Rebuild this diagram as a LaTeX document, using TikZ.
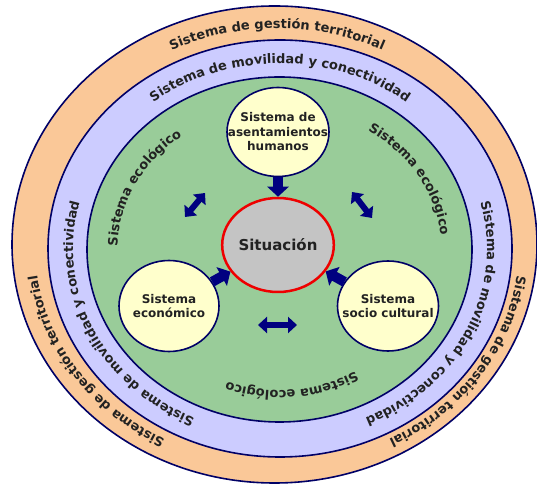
\documentclass[tikz,border=0pt]{standalone}
\usepackage{fontspec}
\setmainfont{DejaVu Sans}
\usetikzlibrary{shapes.geometric,arrows.meta,decorations.text}

\definecolor{ringorange}{HTML}{FAC898}
\definecolor{ringblue}{HTML}{CCCCFF}
\definecolor{ringgreen}{HTML}{99CC99}
\definecolor{sysyellow}{HTML}{FFFFCC}
\definecolor{sitgrey}{HTML}{C4C4C4}
\definecolor{navyline}{HTML}{000066}
\definecolor{arrowblue}{HTML}{000080}
\definecolor{sitred}{HTML}{EE0000}
\definecolor{txt}{HTML}{222222}

\newcommand{\ringfont}{\fontsize{13}{15}\selectfont\bfseries\color{txt}}

\tikzset{
  ring/.style={draw=navyline, line width=1.6pt},
  sysnode/.style={ellipse, draw=navyline, line width=1.6pt, fill=sysyellow, text=txt,
    align=center, inner xsep=-25pt, inner ysep=0pt, font=\fontsize{12}{14.5}\selectfont\bfseries},
  bigarrow/.style={draw=arrowblue, line width=10pt, -{Triangle[width=21pt,length=10pt]}},
  dblarrow/.style={draw=arrowblue, line width=6pt,
    {Triangle[width=16pt,length=9pt]}-{Triangle[width=16pt,length=9pt]}},
  ringtext/.style={decorate, decoration={text along path, text align=center,
    text={|\ringfont|#1}}}
}

\begin{document}
\begin{tikzpicture}[x=1pt,y=1pt]

\useasboundingbox (0,0) rectangle (537,489);
\fill[white] (0,0) rectangle (537,489);

% Rings
\filldraw[ring, fill=ringorange] (274.5,244.5) ellipse [x radius=262.5, y radius=238.5];
\filldraw[ring, fill=ringblue] (280,240.5) ellipse [x radius=232, y radius=208.5];
\filldraw[ring, fill=ringgreen] (279.5,239.5) ellipse [x radius=192.5, y radius=172.5];

% Ring labels
\path[ringtext={Sistema de gestión territorial}] (277,242.5) ++(150:242 and 218)
  arc[start angle=150, end angle=30, x radius=242, y radius=218];
\path[ringtext={Sistema de gestión territorial}] (277,242.5) ++(264:242 and 218)
  arc[start angle=264, end angle=164, x radius=242, y radius=218];
\path[ringtext={Sistema de gestión territorial}] (277,242.5) ++(16:242 and 218)
  arc[start angle=16, end angle=-84, x radius=242, y radius=218];

\path[ringtext={Sistema de movilidad y conectividad}] (280,240) ++(150:207 and 185.5)
  arc[start angle=150, end angle=30, x radius=207, y radius=185.5];
\path[ringtext={Sistema de movilidad y conectividad}] (280,240) ++(258:207 and 185.5)
  arc[start angle=258, end angle=152, x radius=207, y radius=185.5];
\path[ringtext={Sistema de movilidad y conectividad}] (280,240) ++(28:207 and 185.5)
  arc[start angle=28, end angle=-78, x radius=207, y radius=185.5];

\path[ringtext={Sistema ecológico}] (279.5,239.5) ++(204:162 and 142)
  arc[start angle=204, end angle=104, x radius=162, y radius=142];
\path[ringtext={Sistema ecológico}] (279.5,239.5) ++(80:162 and 142)
  arc[start angle=80, end angle=-20, x radius=162, y radius=142];
\path[ringtext={Sistema ecológico}] (279.5,239.5) ++(325:152 and 141)
  arc[start angle=325, end angle=225, x radius=152, y radius=141];

% Systems
\node[sysnode, minimum width=102pt, minimum height=89pt] (asent) at (278,357)
  {Sistema de\\asentamientos\\humanos};
\node[sysnode, minimum width=100pt, minimum height=91pt] (econ) at (169,183)
  {Sistema\\económico};
\node[sysnode, minimum width=101pt, minimum height=90pt] (socio) at (388,183)
  {Sistema\\socio cultural};
\node[ellipse, draw=sitred, line width=2.5pt, fill=sitgrey, text=txt, inner sep=0pt,
  minimum width=104pt, minimum height=94pt, font=\fontsize{15}{18}\selectfont\bfseries]
  (sit) at (278,244) {Situación};

% Arrows into the situation
\draw[bigarrow] (asent) -- (sit);
\draw[bigarrow] (econ) -- (sit);
\draw[bigarrow] (socio) -- (sit);

% Two way arrows
\coordinate (dl1) at (185,272);
\coordinate (dl2) at (205,296);
\coordinate (dr1) at (352,297);
\coordinate (dr2) at (372,271);
\coordinate (db1) at (258,164);
\coordinate (db2) at (297,164);
\draw[dblarrow] (dl1) -- (dl2);
\draw[dblarrow] (dr1) -- (dr2);
\draw[dblarrow] (db1) -- (db2);

\end{tikzpicture}
\end{document}
